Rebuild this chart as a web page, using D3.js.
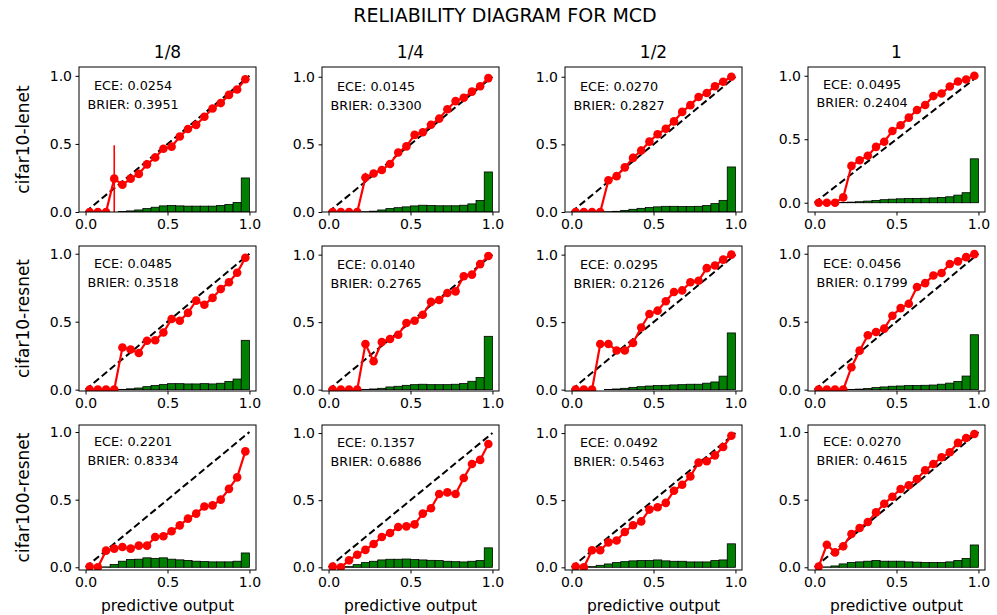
<!DOCTYPE html>
<html><head><meta charset="utf-8">
<script src="https://cdn.jsdelivr.net/npm/d3@7"></script>
<style>body{margin:0;background:#fff} svg{display:block} text{font-family:"DejaVu Sans",sans-serif}</style>
</head><body><svg id="c" width="997" height="615"></svg>
<script>
const suptitle = "RELIABILITY DIAGRAM FOR MCD";
const colTitles = ["1/8", "1/4", "1/2", "1"];
const rowTitles = ["cifar10-lenet", "cifar10-resnet", "cifar100-resnet"];
const xLabel = "predictive output";
const xTicks = [0.0, 0.5, 1.0];
const yTicks = [0.0, 0.5, 1.0];
const binCenters = [0.025,0.075,0.125,0.175,0.225,0.275,0.325,0.375,0.425,0.475,0.525,0.575,0.625,0.675,0.725,0.775,0.825,0.875,0.925,0.975];
const binEdges = [0,0.05,0.1,0.15,0.2,0.25,0.3,0.35,0.4,0.45,0.5,0.55,0.6,0.65,0.7,0.75,0.8,0.85,0.9,0.95,1.0];
const ece = ["0.0254","0.0145","0.0270","0.0495","0.0485","0.0140","0.0295","0.0456","0.2201","0.1357","0.0492","0.0270"];
const brier = ["0.3951","0.3300","0.2827","0.2404","0.3518","0.2765","0.2126","0.1799","0.8334","0.6886","0.5463","0.4615"];

// accuracy per bin (red line)
const acc1 = [0,0,0,0.245,0.20,0.245,0.28,0.35,0.40,0.465,0.48,0.555,0.61,0.64,0.70,0.76,0.80,0.86,0.90,0.975];
const acc2 = [0,0,0,0,0.255,0.285,0.31,0.355,0.44,0.485,0.57,0.59,0.645,0.69,0.76,0.82,0.845,0.89,0.93,0.99];
const acc3 = [0,0,0,0,0.235,0.265,0.33,0.40,0.455,0.52,0.575,0.615,0.67,0.74,0.79,0.85,0.88,0.93,0.963,1.0];
const acc4 = [0,0,0,0.042,0.29,0.335,0.37,0.44,0.48,0.565,0.61,0.67,0.73,0.77,0.84,0.86,0.915,0.955,0.97,1.0];
const acc5 = [0,0,0,0,0.31,0.295,0.27,0.36,0.363,0.42,0.52,0.507,0.565,0.655,0.625,0.675,0.74,0.79,0.86,0.97];
const acc6 = [0,0,0,0,0.338,0.21,0.353,0.375,0.407,0.494,0.51,0.555,0.65,0.664,0.716,0.728,0.84,0.852,0.93,0.99];
const acc7 = [0,0,0,0.338,0.338,0.29,0.29,0.345,0.46,0.56,0.585,0.655,0.723,0.735,0.795,0.807,0.90,0.92,0.963,1.0];
const acc8 = [0,0,0,0,0.165,0.287,0.40,0.424,0.449,0.544,0.60,0.632,0.755,0.784,0.84,0.858,0.924,0.944,0.975,0.997];
const acc9 = [0.005,0,0.123,0.138,0.15,0.138,0.16,0.16,0.224,0.23,0.266,0.31,0.36,0.397,0.45,0.458,0.50,0.58,0.665,0.857];
const acc10 = [0.005,0,0.052,0.094,0.13,0.174,0.226,0.256,0.30,0.305,0.32,0.40,0.44,0.546,0.558,0.546,0.665,0.77,0.80,0.918];
const acc11 = [0.005,0,0.127,0.127,0.186,0.20,0.263,0.313,0.342,0.43,0.447,0.48,0.57,0.615,0.677,0.78,0.79,0.834,0.896,0.98];
const acc12 = [0.005,0.167,0.11,0.155,0.246,0.29,0.335,0.406,0.47,0.522,0.579,0.606,0.653,0.717,0.764,0.813,0.85,0.92,0.956,0.985];

// error bar half-widths per bin
const err1 = [0,0,0,0.245,0,0,0,0,0,0,0,0,0,0,0,0,0,0,0,0];
const err2 = [0,0,0,0,0.035,0,0,0,0,0,0,0,0,0,0,0,0,0,0,0];
const err3 = [0,0,0,0,0,0,0,0.03,0.03,0,0,0,0,0,0,0,0,0,0,0];
const err4 = [0,0,0,0,0,0,0,0,0,0,0,0,0,0,0,0,0,0,0,0];
const err5 = [0,0,0,0,0,0,0,0,0,0,0,0,0,0,0,0,0,0,0,0];
const err6 = [0,0,0,0,0,0,0,0,0,0,0,0,0,0,0,0,0,0,0,0];
const err7 = [0,0,0,0,0,0,0,0,0,0,0,0,0,0,0,0,0,0,0,0];
const err8 = [0,0,0,0,0,0,0,0,0,0,0,0,0,0,0,0,0,0,0,0];
const err9 = [0,0,0,0,0,0,0,0,0,0,0,0,0,0,0,0,0,0,0,0];
const err10 = [0,0,0,0,0,0,0,0,0,0,0,0,0,0,0,0,0,0,0,0];
const err11 = [0,0,0,0,0,0,0,0,0,0,0,0,0,0,0,0,0,0,0,0];
const err12 = [0,0,0,0,0,0,0,0,0,0,0,0,0,0,0,0,0,0,0,0];

// histogram (fraction of samples per bin)
const hist1 = [0,0,0,0,0.003,0.008,0.015,0.025,0.035,0.045,0.048,0.045,0.043,0.043,0.043,0.043,0.048,0.055,0.07,0.25];
const hist2 = [0,0,0,0,0.002,0.006,0.015,0.025,0.032,0.038,0.045,0.05,0.048,0.046,0.046,0.046,0.05,0.06,0.085,0.296];
const hist3 = [0,0,0,0,0.002,0.005,0.012,0.02,0.027,0.033,0.038,0.042,0.042,0.04,0.04,0.042,0.048,0.062,0.086,0.333];
const hist4 = [0,0,0,0.002,0.005,0.008,0.013,0.018,0.024,0.028,0.031,0.033,0.034,0.035,0.038,0.042,0.047,0.06,0.079,0.346];
const hist5 = [0,0,0,0,0.002,0.006,0.012,0.022,0.03,0.037,0.044,0.044,0.042,0.042,0.044,0.042,0.047,0.06,0.078,0.363];
const hist6 = [0,0,0,0,0.002,0.005,0.01,0.02,0.025,0.032,0.037,0.04,0.037,0.037,0.037,0.04,0.045,0.062,0.09,0.395];
const hist7 = [0,0,0,0,0.002,0.005,0.01,0.017,0.022,0.027,0.03,0.032,0.035,0.037,0.04,0.04,0.048,0.057,0.1,0.42];
const hist8 = [0,0,0,0,0.002,0.004,0.008,0.015,0.02,0.025,0.027,0.03,0.03,0.032,0.034,0.04,0.048,0.06,0.1,0.404];
const hist9 = [0,0,0.003,0.02,0.045,0.057,0.06,0.07,0.066,0.07,0.06,0.055,0.05,0.045,0.042,0.04,0.04,0.04,0.045,0.106];
const hist10 = [0,0,0.005,0.02,0.035,0.045,0.055,0.06,0.06,0.062,0.058,0.055,0.052,0.05,0.045,0.042,0.04,0.045,0.05,0.145];
const hist11 = [0,0,0.005,0.015,0.025,0.035,0.042,0.048,0.05,0.05,0.055,0.048,0.045,0.045,0.04,0.04,0.04,0.05,0.055,0.175];
const hist12 = [0,0.003,0.01,0.025,0.035,0.04,0.045,0.05,0.045,0.045,0.045,0.04,0.038,0.035,0.035,0.035,0.04,0.05,0.065,0.165];

const accs = [acc1,acc2,acc3,acc4,acc5,acc6,acc7,acc8,acc9,acc10,acc11,acc12];
const errs = [err1,err2,err3,err4,err5,err6,err7,err8,err9,err10,err11,err12];
const hists = [hist1,hist2,hist3,hist4,hist5,hist6,hist7,hist8,hist9,hist10,hist11,hist12];
// axis limits per panel
const yLims = [[0,1.065],[0,1.072],[0,1.072],[-0.073,1.069],
               [-0.01,1.057],[-0.01,1.064],[-0.01,1.064],[-0.01,1.057],
               [-0.02,1.052],[-0.02,1.06],[-0.02,1.06],[-0.02,1.052]];
const xLim = [-0.04, 1.04];

const svg = d3.select("#c");
const W = 177, H = 145, left0 = 79, colStep = 243, top0 = 67, rowStep = 179;
const tickFont = "14px";

svg.append("text").attr("x", 505).attr("y", 22).attr("text-anchor","middle")
  .style("font-size","19px").text(suptitle);

for (let i = 0; i < 12; i++) {
  const r = Math.floor(i/4), c = i % 4;
  const L = left0 + c*colStep, T = top0 + r*rowStep;
  const x = d3.scaleLinear().domain(xLim).range([0, W]);
  const y = d3.scaleLinear().domain(yLims[i]).range([H, 0]);
  const g = svg.append("g").attr("transform", `translate(${L},${T})`);
  const cid = "clip" + i;
  g.append("clipPath").attr("id", cid).append("rect").attr("width", W).attr("height", H);
  const pg = g.append("g").attr("clip-path", `url(#${cid})`);

  // histogram
  pg.selectAll("rect.bar").data(hists[i]).join("rect").attr("class","bar")
    .attr("x", (d,k) => x(binEdges[k]))
    .attr("width", (d,k) => x(binEdges[k+1]) - x(binEdges[k]))
    .attr("y", d => y(d))
    .attr("height", d => y(0) - y(d))
    .attr("fill", "#008000").attr("stroke", "#000").attr("stroke-width", 0.8);

  // diagonal
  pg.append("line").attr("x1", x(0)).attr("y1", y(0)).attr("x2", x(1)).attr("y2", y(1))
    .attr("stroke", "#000").attr("stroke-width", 2).attr("stroke-dasharray", "7,3.5");

  // error bars
  const acc = accs[i], er = errs[i];
  pg.selectAll("line.err").data(acc.map((a,k)=>({a, e: er[k], xc: binCenters[k]})).filter(d=>d.e>0))
    .join("line").attr("class","err")
    .attr("x1", d => x(d.xc)).attr("x2", d => x(d.xc))
    .attr("y1", d => y(d.a - d.e)).attr("y2", d => y(d.a + d.e))
    .attr("stroke", "#ff0000").attr("stroke-width", 1.6);

  // red line
  const line = d3.line().x((d,k) => x(binCenters[k])).y(d => y(d));
  pg.append("path").attr("d", line(acc)).attr("fill","none").attr("stroke","#ff0000").attr("stroke-width",2.2);
  pg.selectAll("circle").data(acc).join("circle")
    .attr("cx", (d,k) => x(binCenters[k])).attr("cy", d => y(d)).attr("r", 4.3).attr("fill", "#ff0000");

  // texts
  g.append("text").attr("x", x(0.29)).attr("y", y(0.93)).attr("dy","0.36em").attr("text-anchor","middle")
    .style("font-size","12.8px").text("ECE: " + ece[i]);
  g.append("text").attr("x", x(0.29)).attr("y", y(0.79)).attr("dy","0.36em").attr("text-anchor","middle")
    .style("font-size","12.8px").text("BRIER: " + brier[i]);

  // spines
  g.append("rect").attr("width", W).attr("height", H).attr("fill","none").attr("stroke","#000").attr("stroke-width",1);

  // axes
  const ax = g.append("g").attr("transform", `translate(0,${H})`)
    .call(d3.axisBottom(x).tickValues(xTicks).tickFormat(d3.format(".1f")).tickSize(3.5).tickPadding(3.5));
  const ay = g.append("g")
    .call(d3.axisLeft(y).tickValues(yTicks).tickFormat(d3.format(".1f")).tickSize(3.5).tickPadding(3.5));
  [ax, ay].forEach(a => {
    a.select(".domain").remove();
    a.selectAll("text").style("font-size", tickFont).style("font-family", '"DejaVu Sans",sans-serif').attr("fill","#000");
    a.selectAll("line").attr("stroke","#000");
  });

  if (r === 0) g.append("text").attr("x", W/2).attr("y", -9).attr("text-anchor","middle")
      .style("font-size","17px").text(colTitles[c]);
  if (c === 0) g.append("text").attr("transform", `translate(${-50},${H/2}) rotate(-90)`)
      .attr("text-anchor","middle").style("font-size","17px").text(rowTitles[r]);
  if (r === 2) g.append("text").attr("x", W/2).attr("y", H + 41).attr("text-anchor","middle")
      .style("font-size","15.5px").text(xLabel);
}
</script></body></html>
